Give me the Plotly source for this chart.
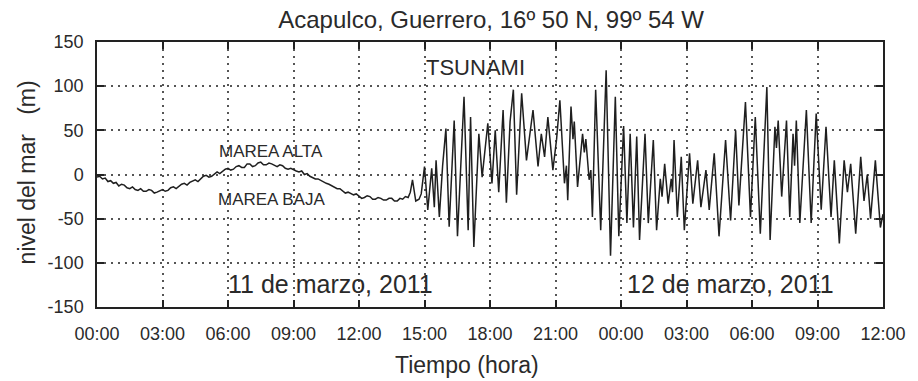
import plotly.graph_objects as go

# Marea (horas desde el 11 de marzo 00:00, nivel en cm)
hora_marea = [0.000, 0.125, 0.250, 0.375, 0.500, 0.625, 0.750, 0.875, 1.000, 1.125,
              1.250, 1.375, 1.500, 1.625, 1.750, 1.875, 2.000, 2.125, 2.250, 2.375,
              2.500, 2.625, 2.750, 2.875, 3.000, 3.125, 3.250, 3.375, 3.500, 3.625,
              3.750, 3.875, 4.000, 4.125, 4.250, 4.375, 4.500, 4.625, 4.750, 4.875,
              5.000, 5.125, 5.250, 5.375, 5.500, 5.625, 5.750, 5.875, 6.000, 6.125,
              6.250, 6.375, 6.500, 6.625, 6.750, 6.875, 7.000, 7.125, 7.250, 7.375,
              7.500, 7.625, 7.750, 7.875, 8.000, 8.125, 8.250, 8.375, 8.500, 8.625,
              8.750, 8.875, 9.000, 9.125, 9.250, 9.375, 9.500, 9.625, 9.750, 9.875,
              10.000, 10.125, 10.250, 10.375, 10.500, 10.625, 10.750, 10.875, 11.000, 11.125,
              11.250, 11.375, 11.500, 11.625, 11.750, 11.875, 12.000, 12.125, 12.250, 12.375,
              12.500, 12.625, 12.750, 12.875, 13.000, 13.125, 13.250, 13.375, 13.500, 13.625,
              13.750, 13.875, 14.000, 14.125, 14.250, 14.350, 14.450, 14.600]
nivel_marea = [-3, -2, -5, -4, -8, -7, -10, -9, -13, -11,
               -12, -15, -16, -14, -17, -18, -16, -19, -19, -17,
               -18, -21, -20, -18, -17, -19, -18, -15, -14, -16,
               -13, -11, -10, -12, -9, -7, -6, -8, -5, -2,
               -1, -3, -2, 1, 3, 1, 4, 6, 7, 5,
               6, 9, 10, 8, 8, 12, 12, 9, 10, 13,
               14, 11, 11, 13, 12, 10, 9, 11, 10, 7,
               6, 7, 5, 4, 3, 4, 0, 1, -2, -4,
               -5, -5, -7, -9, -10, -11, -13, -15, -16, -16,
               -18, -21, -20, -22, -23, -22, -24, -27, -26, -24,
               -25, -28, -28, -26, -27, -29, -29, -27, -27, -30,
               -30, -27, -28, -25, -26, -20, -6, -30]

# Tsunami (llegada de las ondas desde las 14:45)
hora_tsunami = [14.75, 14.85, 15.00, 15.15, 15.33, 15.45, 15.53, 15.68, 15.83, 15.98,
                16.13, 16.36, 16.51, 16.81, 17.00, 17.11, 17.26, 17.49, 17.64, 17.90,
                18.09, 18.24, 18.40, 18.60, 18.75, 18.92, 19.07, 19.22, 19.45, 19.67,
                19.97, 20.20, 20.35, 20.50, 20.65, 20.88, 21.05, 21.20, 21.41, 21.50,
                21.56, 21.71, 21.80, 21.86, 22.01, 22.24, 22.32, 22.39, 22.54, 22.62,
                22.69, 22.84, 23.07, 23.32, 23.52, 23.74, 23.90, 24.12, 24.27, 24.42,
                24.57, 24.72, 24.85, 25.10, 25.25, 25.48, 25.63, 25.80, 25.88, 26.00,
                26.16, 26.30, 26.36, 26.43, 26.58, 26.76, 26.90, 27.14, 27.29, 27.51,
                27.66, 27.89, 28.04, 28.27, 28.49, 28.79, 29.02, 29.25, 29.40, 29.70,
                29.93, 30.15, 30.38, 30.68, 30.83, 31.05, 31.12, 31.20, 31.36, 31.58,
                31.73, 31.88, 31.95, 32.03, 32.19, 32.49, 32.71, 32.94, 33.17, 33.39,
                33.62, 33.77, 34.00, 34.22, 34.37, 34.52, 34.75, 34.98, 35.13, 35.28,
                35.43, 35.65, 35.88, 36.00]
nivel_tsunami = [-28, -22, 9, -40, 7, -37, 16, -48, 10, 52,
                 -59, 61, -70, 88, -63, 65, -82, 46, -3, 58,
                 -10, 50, -20, 73, -32, 60, 96, -23, 92, 16,
                 73, 9, 46, 20, 65, 5, 40, 84, -10, 10,
                 -29, 77, 40, 60, -14, 46, 25, 40, -6, 5,
                 -48, 96, -63, 118, -92, 88, -70, 55, -55, 46,
                 -60, 43, -74, 46, -55, 39, -63, -5, -25, 12,
                 -33, -5, -20, 39, -48, 20, -63, 24, -33, 16,
                 -37, 5, -40, 24, -70, 39, -52, 50, -35, 82,
                 -48, 65, -67, 99, -74, 54, 30, 61, -25, 61,
                 -48, 46, 10, 61, -55, 73, -55, 69, -40, 54,
                 -48, 16, -78, 16, -20, 12, -67, 20, -30, 0,
                 -50, 16, -60, -45]

tick_horas = [0, 3, 6, 9, 12, 15, 18, 21, 24, 27, 30, 33, 36]
tick_etiquetas = ["00:00", "03:00", "06:00", "09:00", "12:00", "15:00", "18:00",
                  "21:00", "00:00", "03:00", "06:00", "09:00", "12:00"]
tick_nivel = [-150, -100, -50, 0, 50, 100, 150]
tick_nivel_texto = ["-150", "-100", "-50", "0", "50", "100", "150"]

FONT = "Liberation Sans, Arial, sans-serif"
INK = "#2a2a2a"

fig = go.Figure()
fig.add_trace(go.Scatter(
    x=hora_marea + hora_tsunami,
    y=nivel_marea + nivel_tsunami,
    mode="lines",
    line=dict(color="#1f1f1f", width=1.5),
    showlegend=False,
    hoverinfo="skip",
))

axis_common = dict(
    ticks="inside", ticklen=7, tickwidth=1.5, tickcolor="#222",
    showline=True, linecolor="#222", linewidth=1.5, mirror="ticks",
    showgrid=True, gridcolor="#555", gridwidth=1.5, griddash="2px,5px",
    zeroline=False, tickfont=dict(family=FONT, size=18, color=INK),
)

fig.update_layout(
    width=918, height=381,
    margin=dict(l=97, r=25, t=42, b=74),
    paper_bgcolor="white", plot_bgcolor="white",
    title=dict(text="Acapulco, Guerrero, 16º 50 N, 99º 54 W",
               font=dict(family=FONT, size=24, color=INK),
               x=0.535, y=0.949, xanchor="center", yanchor="middle"),
    xaxis=dict(range=[0, 36], tickvals=tick_horas, ticktext=tick_etiquetas,
               ticklabelstandoff=10, **axis_common),
    yaxis=dict(range=[-150, 150], tickvals=tick_nivel, ticktext=tick_nivel_texto,
               ticklabelstandoff=8, **axis_common),
)

text_font = dict(family=FONT, color=INK)
notes = [
    dict(x=17.33, y=121, text="TSUNAMI", size=22),
    dict(x=7.98, y=26.5, text="MAREA ALTA", size=17),
    dict(x=7.98, y=-28, text="MAREA BAJA", size=17),
    dict(x=10.7, y=-124, text="11 de marzo, 2011", size=25),
    dict(x=29.0, y=-124, text="12 de marzo, 2011", size=25),
]
for n in notes:
    fig.add_annotation(x=n["x"], y=n["y"], text=n["text"], showarrow=False,
                       xref="x", yref="y", xanchor="center", yanchor="middle",
                       font=dict(size=n["size"], **text_font))

fig.add_annotation(x=0.471, y=-0.219, xref="paper", yref="paper",
                   text="Tiempo (hora)", showarrow=False,
                   xanchor="center", yanchor="middle",
                   font=dict(size=23, **text_font))
fig.add_annotation(x=-0.0892, y=0.5075, xref="paper", yref="paper",
                   text="nivel del mar\u00a0\u00a0\u00a0(m)", showarrow=False,
                   textangle=-90, xanchor="center", yanchor="middle",
                   font=dict(size=23, **text_font))

fig.write_html("out.html")
